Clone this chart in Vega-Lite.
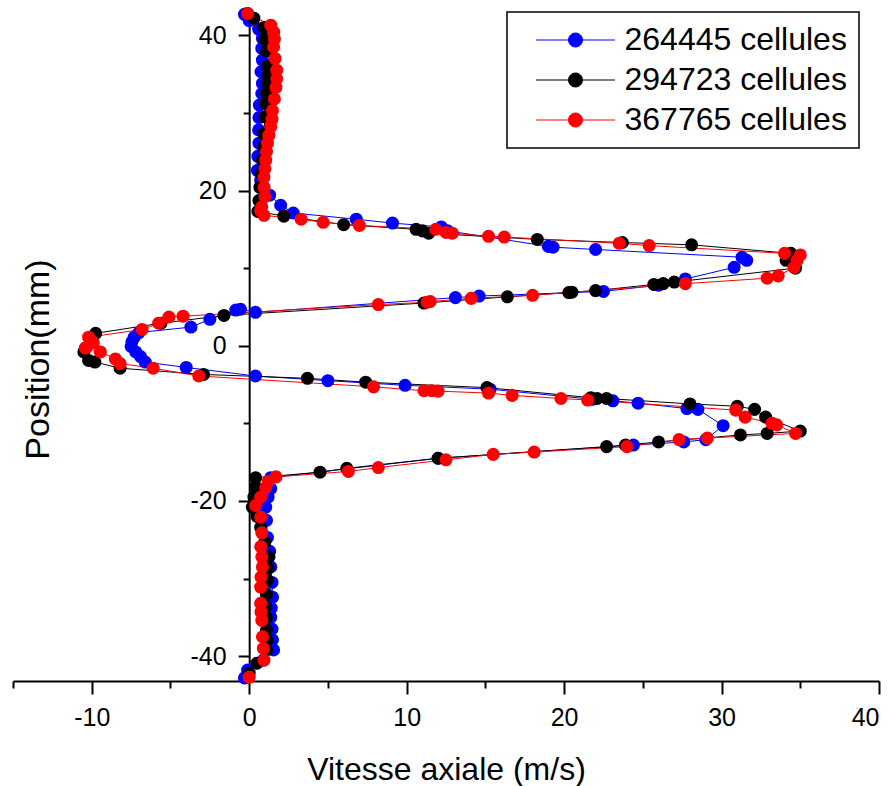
{
  "$schema": "https://vega.github.io/schema/vega-lite/v6.json",
  "width": 866,
  "height": 669,
  "autosize": {"type": "none"},
  "padding": {"left": 13, "top": 12, "right": 17, "bottom": 105},
  "config": {
    "font": "Liberation Sans",
    "view": {"stroke": null},
    "axis": {"grid": false, "domainColor": "black", "tickColor": "black", "labelColor": "black", "titleColor": "black", "titleFontWeight": "normal", "domainWidth": 2, "tickWidth": 2}
  },
  "data": {"values": [
    {"s":"264445 cellules","i":1,"p":42.7,"v":-0.3},
    {"s":"264445 cellules","i":2,"p":41.9,"v":0.0},
    {"s":"264445 cellules","i":3,"p":40.8,"v":0.6},
    {"s":"264445 cellules","i":4,"p":39.6,"v":0.84},
    {"s":"264445 cellules","i":5,"p":38.3,"v":0.8},
    {"s":"264445 cellules","i":6,"p":36.8,"v":0.84},
    {"s":"264445 cellules","i":7,"p":35.3,"v":0.75},
    {"s":"264445 cellules","i":8,"p":33.8,"v":0.84},
    {"s":"264445 cellules","i":9,"p":32.5,"v":0.8},
    {"s":"264445 cellules","i":10,"p":31.0,"v":0.65},
    {"s":"264445 cellules","i":11,"p":29.4,"v":0.62},
    {"s":"264445 cellules","i":12,"p":27.8,"v":0.6},
    {"s":"264445 cellules","i":13,"p":26.1,"v":0.62},
    {"s":"264445 cellules","i":14,"p":24.4,"v":0.55},
    {"s":"264445 cellules","i":15,"p":22.6,"v":0.52},
    {"s":"264445 cellules","i":16,"p":21.3,"v":0.73},
    {"s":"264445 cellules","i":17,"p":19.4,"v":1.3},
    {"s":"264445 cellules","i":18,"p":18.1,"v":2.0},
    {"s":"264445 cellules","i":19,"p":17.1,"v":2.8},
    {"s":"264445 cellules","i":20,"p":16.3,"v":6.8},
    {"s":"264445 cellules","i":21,"p":15.8,"v":9.1},
    {"s":"264445 cellules","i":22,"p":15.3,"v":12.2},
    {"s":"264445 cellules","i":23,"p":14.8,"v":12.6},
    {"s":"264445 cellules","i":24,"p":12.8,"v":19.0},
    {"s":"264445 cellules","i":25,"p":12.7,"v":19.3},
    {"s":"264445 cellules","i":26,"p":12.4,"v":22.0},
    {"s":"264445 cellules","i":27,"p":11.4,"v":31.3},
    {"s":"264445 cellules","i":28,"p":11.0,"v":31.6},
    {"s":"264445 cellules","i":29,"p":10.1,"v":30.8},
    {"s":"264445 cellules","i":30,"p":8.6,"v":27.7},
    {"s":"264445 cellules","i":31,"p":7.8,"v":26.0},
    {"s":"264445 cellules","i":32,"p":7.0,"v":22.5},
    {"s":"264445 cellules","i":33,"p":6.4,"v":14.6},
    {"s":"264445 cellules","i":34,"p":6.2,"v":13.1},
    {"s":"264445 cellules","i":35,"p":4.3,"v":0.4},
    {"s":"264445 cellules","i":36,"p":4.7,"v":-0.55},
    {"s":"264445 cellules","i":37,"p":4.6,"v":-0.85},
    {"s":"264445 cellules","i":38,"p":3.4,"v":-2.5},
    {"s":"264445 cellules","i":39,"p":2.4,"v":-3.7},
    {"s":"264445 cellules","i":40,"p":1.7,"v":-7.0},
    {"s":"264445 cellules","i":41,"p":1.1,"v":-7.3},
    {"s":"264445 cellules","i":42,"p":0.5,"v":-7.45},
    {"s":"264445 cellules","i":43,"p":-0.1,"v":-7.5},
    {"s":"264445 cellules","i":44,"p":-0.8,"v":-7.2},
    {"s":"264445 cellules","i":45,"p":-1.4,"v":-6.9},
    {"s":"264445 cellules","i":46,"p":-2.1,"v":-6.6},
    {"s":"264445 cellules","i":47,"p":-2.8,"v":-4.0},
    {"s":"264445 cellules","i":48,"p":-3.9,"v":0.4},
    {"s":"264445 cellules","i":49,"p":-4.5,"v":5.0},
    {"s":"264445 cellules","i":50,"p":-5.1,"v":9.9},
    {"s":"264445 cellules","i":51,"p":-5.6,"v":15.3},
    {"s":"264445 cellules","i":52,"p":-6.9,"v":21.8},
    {"s":"264445 cellules","i":53,"p":-7.1,"v":23.1},
    {"s":"264445 cellules","i":54,"p":-7.4,"v":24.7},
    {"s":"264445 cellules","i":55,"p":-8.1,"v":27.8},
    {"s":"264445 cellules","i":56,"p":-8.2,"v":28.5},
    {"s":"264445 cellules","i":57,"p":-10.3,"v":30.1},
    {"s":"264445 cellules","i":58,"p":-12.1,"v":29.0},
    {"s":"264445 cellules","i":59,"p":-12.4,"v":27.6},
    {"s":"264445 cellules","i":60,"p":-12.8,"v":24.4},
    {"s":"264445 cellules","i":61,"p":-14.5,"v":12.0},
    {"s":"264445 cellules","i":62,"p":-17.0,"v":1.37},
    {"s":"264445 cellules","i":63,"p":-18.4,"v":1.37},
    {"s":"264445 cellules","i":64,"p":-19.5,"v":1.2},
    {"s":"264445 cellules","i":65,"p":-20.8,"v":1.05},
    {"s":"264445 cellules","i":66,"p":-22.5,"v":1.1},
    {"s":"264445 cellules","i":67,"p":-24.7,"v":1.16},
    {"s":"264445 cellules","i":68,"p":-26.5,"v":1.3},
    {"s":"264445 cellules","i":69,"p":-28.5,"v":1.37},
    {"s":"264445 cellules","i":70,"p":-30.5,"v":1.45},
    {"s":"264445 cellules","i":71,"p":-32.4,"v":1.48},
    {"s":"264445 cellules","i":72,"p":-33.8,"v":1.4},
    {"s":"264445 cellules","i":73,"p":-35.0,"v":1.37},
    {"s":"264445 cellules","i":74,"p":-36.5,"v":1.45},
    {"s":"264445 cellules","i":75,"p":-37.9,"v":1.48},
    {"s":"264445 cellules","i":76,"p":-39.2,"v":1.55},
    {"s":"264445 cellules","i":77,"p":-40.5,"v":0.9},
    {"s":"264445 cellules","i":78,"p":-41.8,"v":-0.1},
    {"s":"264445 cellules","i":79,"p":-42.8,"v":-0.3},

    {"s":"294723 cellules","i":1,"p":42.8,"v":-0.1},
    {"s":"294723 cellules","i":2,"p":42.2,"v":0.3},
    {"s":"294723 cellules","i":3,"p":41.0,"v":0.94},
    {"s":"294723 cellules","i":4,"p":39.5,"v":1.0},
    {"s":"294723 cellules","i":5,"p":38.0,"v":1.1},
    {"s":"294723 cellules","i":6,"p":36.0,"v":1.16},
    {"s":"294723 cellules","i":7,"p":34.8,"v":1.2},
    {"s":"294723 cellules","i":8,"p":33.8,"v":1.16},
    {"s":"294723 cellules","i":9,"p":32.5,"v":1.1},
    {"s":"294723 cellules","i":10,"p":31.2,"v":1.05},
    {"s":"294723 cellules","i":11,"p":29.5,"v":1.0},
    {"s":"294723 cellules","i":12,"p":27.3,"v":0.94},
    {"s":"294723 cellules","i":13,"p":25.6,"v":0.9},
    {"s":"294723 cellules","i":14,"p":23.9,"v":0.84},
    {"s":"294723 cellules","i":15,"p":22.2,"v":0.75},
    {"s":"294723 cellules","i":16,"p":20.4,"v":0.68},
    {"s":"294723 cellules","i":17,"p":18.7,"v":0.62},
    {"s":"294723 cellules","i":18,"p":17.3,"v":0.55},
    {"s":"294723 cellules","i":19,"p":16.7,"v":2.2},
    {"s":"294723 cellules","i":20,"p":15.6,"v":6.0},
    {"s":"294723 cellules","i":21,"p":15.0,"v":10.6},
    {"s":"294723 cellules","i":22,"p":14.8,"v":11.0},
    {"s":"294723 cellules","i":23,"p":14.5,"v":11.4},
    {"s":"294723 cellules","i":24,"p":13.7,"v":18.3},
    {"s":"294723 cellules","i":25,"p":13.3,"v":23.7},
    {"s":"294723 cellules","i":26,"p":13.0,"v":28.1},
    {"s":"294723 cellules","i":27,"p":11.9,"v":34.4},
    {"s":"294723 cellules","i":28,"p":11.0,"v":34.1},
    {"s":"294723 cellules","i":29,"p":10.0,"v":34.7},
    {"s":"294723 cellules","i":30,"p":8.2,"v":27.0},
    {"s":"294723 cellules","i":31,"p":8.0,"v":26.3},
    {"s":"294723 cellules","i":32,"p":7.9,"v":25.7},
    {"s":"294723 cellules","i":33,"p":7.1,"v":22.0},
    {"s":"294723 cellules","i":34,"p":6.9,"v":20.5},
    {"s":"294723 cellules","i":35,"p":6.85,"v":20.3},
    {"s":"294723 cellules","i":36,"p":6.3,"v":16.4},
    {"s":"294723 cellules","i":37,"p":5.5,"v":11.1},
    {"s":"294723 cellules","i":38,"p":3.9,"v":-1.6},
    {"s":"294723 cellules","i":39,"p":2.9,"v":-5.6},
    {"s":"294723 cellules","i":40,"p":1.6,"v":-9.75},
    {"s":"294723 cellules","i":41,"p":-0.3,"v":-10.4},
    {"s":"294723 cellules","i":42,"p":-0.8,"v":-10.5},
    {"s":"294723 cellules","i":43,"p":-1.9,"v":-10.2},
    {"s":"294723 cellules","i":44,"p":-2.1,"v":-9.8},
    {"s":"294723 cellules","i":45,"p":-2.9,"v":-8.2},
    {"s":"294723 cellules","i":46,"p":-3.7,"v":-2.9},
    {"s":"294723 cellules","i":47,"p":-4.2,"v":3.7},
    {"s":"294723 cellules","i":48,"p":-4.7,"v":7.4},
    {"s":"294723 cellules","i":49,"p":-5.4,"v":15.1},
    {"s":"294723 cellules","i":50,"p":-6.7,"v":21.7},
    {"s":"294723 cellules","i":51,"p":-6.8,"v":22.1},
    {"s":"294723 cellules","i":52,"p":-6.8,"v":22.7},
    {"s":"294723 cellules","i":53,"p":-7.5,"v":28.0},
    {"s":"294723 cellules","i":54,"p":-7.8,"v":31.0},
    {"s":"294723 cellules","i":55,"p":-8.2,"v":32.1},
    {"s":"294723 cellules","i":56,"p":-9.2,"v":32.8},
    {"s":"294723 cellules","i":57,"p":-11.0,"v":35.0},
    {"s":"294723 cellules","i":58,"p":-11.3,"v":32.9},
    {"s":"294723 cellules","i":59,"p":-11.5,"v":31.2},
    {"s":"294723 cellules","i":60,"p":-12.4,"v":26.0},
    {"s":"294723 cellules","i":61,"p":-12.8,"v":23.9},
    {"s":"294723 cellules","i":62,"p":-13.0,"v":22.7},
    {"s":"294723 cellules","i":63,"p":-14.5,"v":12.0},
    {"s":"294723 cellules","i":64,"p":-15.8,"v":6.2},
    {"s":"294723 cellules","i":65,"p":-16.3,"v":4.5},
    {"s":"294723 cellules","i":66,"p":-17.0,"v":0.41},
    {"s":"294723 cellules","i":67,"p":-18.2,"v":0.41},
    {"s":"294723 cellules","i":68,"p":-19.5,"v":0.3},
    {"s":"294723 cellules","i":69,"p":-20.8,"v":0.2},
    {"s":"294723 cellules","i":70,"p":-22.0,"v":0.5},
    {"s":"294723 cellules","i":71,"p":-23.4,"v":0.73},
    {"s":"294723 cellules","i":72,"p":-25.3,"v":1.0},
    {"s":"294723 cellules","i":73,"p":-27.2,"v":1.26},
    {"s":"294723 cellules","i":74,"p":-28.7,"v":1.2},
    {"s":"294723 cellules","i":75,"p":-30.2,"v":1.16},
    {"s":"294723 cellules","i":76,"p":-32.0,"v":1.1},
    {"s":"294723 cellules","i":77,"p":-33.6,"v":1.05},
    {"s":"294723 cellules","i":78,"p":-35.0,"v":1.1},
    {"s":"294723 cellules","i":79,"p":-36.6,"v":1.1},
    {"s":"294723 cellules","i":80,"p":-38.0,"v":1.15},
    {"s":"294723 cellules","i":81,"p":-39.2,"v":1.1},
    {"s":"294723 cellules","i":82,"p":-40.9,"v":0.5},
    {"s":"294723 cellules","i":83,"p":-42.2,"v":0.0},

    {"s":"367765 cellules","i":1,"p":42.8,"v":-0.1},
    {"s":"367765 cellules","i":2,"p":41.3,"v":1.37},
    {"s":"367765 cellules","i":3,"p":40.4,"v":1.56},
    {"s":"367765 cellules","i":4,"p":39.5,"v":1.6},
    {"s":"367765 cellules","i":5,"p":38.5,"v":1.55},
    {"s":"367765 cellules","i":6,"p":37.0,"v":1.65},
    {"s":"367765 cellules","i":7,"p":35.5,"v":1.75},
    {"s":"367765 cellules","i":8,"p":34.4,"v":1.75},
    {"s":"367765 cellules","i":9,"p":33.3,"v":1.7},
    {"s":"367765 cellules","i":10,"p":31.8,"v":1.6},
    {"s":"367765 cellules","i":11,"p":30.3,"v":1.48},
    {"s":"367765 cellules","i":12,"p":29.2,"v":1.45},
    {"s":"367765 cellules","i":13,"p":28.2,"v":1.37},
    {"s":"367765 cellules","i":14,"p":27.1,"v":1.25},
    {"s":"367765 cellules","i":15,"p":26.1,"v":1.16},
    {"s":"367765 cellules","i":16,"p":25.0,"v":1.1},
    {"s":"367765 cellules","i":17,"p":23.9,"v":1.05},
    {"s":"367765 cellules","i":18,"p":22.8,"v":1.0},
    {"s":"367765 cellules","i":19,"p":21.7,"v":0.94},
    {"s":"367765 cellules","i":20,"p":20.4,"v":0.95},
    {"s":"367765 cellules","i":21,"p":19.2,"v":1.0},
    {"s":"367765 cellules","i":22,"p":17.9,"v":0.8},
    {"s":"367765 cellules","i":23,"p":17.4,"v":0.73},
    {"s":"367765 cellules","i":24,"p":16.8,"v":0.94},
    {"s":"367765 cellules","i":25,"p":16.3,"v":3.3},
    {"s":"367765 cellules","i":26,"p":15.9,"v":4.7},
    {"s":"367765 cellules","i":27,"p":15.5,"v":7.0},
    {"s":"367765 cellules","i":28,"p":15.0,"v":11.85},
    {"s":"367765 cellules","i":29,"p":14.6,"v":12.5},
    {"s":"367765 cellules","i":30,"p":14.5,"v":12.9},
    {"s":"367765 cellules","i":31,"p":14.1,"v":15.2},
    {"s":"367765 cellules","i":32,"p":14.0,"v":16.2},
    {"s":"367765 cellules","i":33,"p":13.2,"v":23.5},
    {"s":"367765 cellules","i":34,"p":12.9,"v":25.4},
    {"s":"367765 cellules","i":35,"p":11.9,"v":34.0},
    {"s":"367765 cellules","i":36,"p":11.7,"v":35.0},
    {"s":"367765 cellules","i":37,"p":11.0,"v":34.8},
    {"s":"367765 cellules","i":38,"p":10.1,"v":34.6},
    {"s":"367765 cellules","i":39,"p":9.0,"v":33.6},
    {"s":"367765 cellules","i":40,"p":8.7,"v":32.9},
    {"s":"367765 cellules","i":41,"p":8.0,"v":27.7},
    {"s":"367765 cellules","i":42,"p":6.5,"v":18.0},
    {"s":"367765 cellules","i":43,"p":6.1,"v":14.1},
    {"s":"367765 cellules","i":44,"p":5.7,"v":11.5},
    {"s":"367765 cellules","i":45,"p":5.6,"v":11.3},
    {"s":"367765 cellules","i":46,"p":5.3,"v":8.2},
    {"s":"367765 cellules","i":47,"p":3.8,"v":-4.2},
    {"s":"367765 cellules","i":48,"p":3.7,"v":-5.1},
    {"s":"367765 cellules","i":49,"p":2.9,"v":-5.75},
    {"s":"367765 cellules","i":50,"p":2.1,"v":-6.8},
    {"s":"367765 cellules","i":51,"p":1.1,"v":-10.2},
    {"s":"367765 cellules","i":52,"p":0.4,"v":-9.9},
    {"s":"367765 cellules","i":53,"p":-0.3,"v":-10.4},
    {"s":"367765 cellules","i":54,"p":-0.8,"v":-9.45},
    {"s":"367765 cellules","i":55,"p":-1.7,"v":-8.5},
    {"s":"367765 cellules","i":56,"p":-2.3,"v":-8.2},
    {"s":"367765 cellules","i":57,"p":-2.9,"v":-6.1},
    {"s":"367765 cellules","i":58,"p":-3.9,"v":-3.2},
    {"s":"367765 cellules","i":59,"p":-5.3,"v":7.9},
    {"s":"367765 cellules","i":60,"p":-5.8,"v":11.1},
    {"s":"367765 cellules","i":61,"p":-5.8,"v":11.6},
    {"s":"367765 cellules","i":62,"p":-5.85,"v":12.0},
    {"s":"367765 cellules","i":63,"p":-6.1,"v":15.2},
    {"s":"367765 cellules","i":64,"p":-6.4,"v":16.7},
    {"s":"367765 cellules","i":65,"p":-6.8,"v":19.8},
    {"s":"367765 cellules","i":66,"p":-7.0,"v":21.5},
    {"s":"367765 cellules","i":67,"p":-8.3,"v":30.9},
    {"s":"367765 cellules","i":68,"p":-9.2,"v":31.5},
    {"s":"367765 cellules","i":69,"p":-10.0,"v":33.2},
    {"s":"367765 cellules","i":70,"p":-10.2,"v":33.5},
    {"s":"367765 cellules","i":71,"p":-11.3,"v":34.7},
    {"s":"367765 cellules","i":72,"p":-11.9,"v":29.1},
    {"s":"367765 cellules","i":73,"p":-12.1,"v":27.3},
    {"s":"367765 cellules","i":74,"p":-13.0,"v":24.0},
    {"s":"367765 cellules","i":75,"p":-13.7,"v":18.1},
    {"s":"367765 cellules","i":76,"p":-14.0,"v":15.5},
    {"s":"367765 cellules","i":77,"p":-14.7,"v":12.5},
    {"s":"367765 cellules","i":78,"p":-15.7,"v":8.2},
    {"s":"367765 cellules","i":79,"p":-16.2,"v":6.3},
    {"s":"367765 cellules","i":80,"p":-16.9,"v":1.7},
    {"s":"367765 cellules","i":81,"p":-17.5,"v":1.2},
    {"s":"367765 cellules","i":82,"p":-18.3,"v":1.05},
    {"s":"367765 cellules","i":83,"p":-19.5,"v":0.73},
    {"s":"367765 cellules","i":84,"p":-20.6,"v":0.41},
    {"s":"367765 cellules","i":85,"p":-22.1,"v":0.73},
    {"s":"367765 cellules","i":86,"p":-24.1,"v":0.8},
    {"s":"367765 cellules","i":87,"p":-25.9,"v":0.73},
    {"s":"367765 cellules","i":88,"p":-27.2,"v":0.8},
    {"s":"367765 cellules","i":89,"p":-28.5,"v":0.84},
    {"s":"367765 cellules","i":90,"p":-29.8,"v":0.75},
    {"s":"367765 cellules","i":91,"p":-31.1,"v":0.73},
    {"s":"367765 cellules","i":92,"p":-33.2,"v":0.73},
    {"s":"367765 cellules","i":93,"p":-34.3,"v":0.75},
    {"s":"367765 cellules","i":94,"p":-35.4,"v":0.8},
    {"s":"367765 cellules","i":95,"p":-37.5,"v":0.84},
    {"s":"367765 cellules","i":96,"p":-39.0,"v":0.9},
    {"s":"367765 cellules","i":97,"p":-40.5,"v":0.94},
    {"s":"367765 cellules","i":98,"p":-42.7,"v":0.0}
  ]},
  "resolve": {"scale": {"x": "independent", "y": "independent"}, "axis": {"x": "independent", "y": "independent"}},
  "layer": [
    {
      "mark": {"type": "line", "strokeWidth": 1},
      "encoding": {
        "x": {"field": "v", "type": "quantitative", "scale": {"domain": [-15, 40], "nice": false, "zero": false},
          "axis": {"orient": "bottom", "values": [-10, 0, 10, 20, 30, 40], "labelExpr": "datum.value < 0 ? '-' + abs(datum.value) : '' + datum.value", "tickSize": 13, "labelFontSize": 25, "labelPadding": 11, "title": "Vitesse axiale (m/s)", "titleFontSize": 32, "titleY": 98, "titleBaseline": "alphabetic"}},
        "y": {"field": "p", "type": "quantitative", "scale": {"domain": [-43.2, 43], "nice": false, "zero": false},
          "axis": {"orient": "left", "offset": -236.18, "values": [-40, -20, 0, 20, 40], "labelExpr": "datum.value < 0 ? '-' + abs(datum.value) : '' + datum.value", "tickSize": 11, "labelFontSize": 25, "labelPadding": 12, "title": "Position(mm)", "titleFontSize": 34, "titleX": -201, "titleY": 347, "titleBaseline": "alphabetic", "titleAngle": -90, "titleAlign": "center"}},
        "color": {"field": "s", "type": "nominal",
          "scale": {"domain": ["264445 cellules", "294723 cellules", "367765 cellules"], "range": ["#0000FF", "#000000", "#FF0000"]},
          "legend": {"orient": "none", "legendX": 494, "legendY": 0, "title": null, "padding": 12, "strokeColor": "black",
            "labelFontSize": 32, "labelLimit": 400, "labelColor": "black", "labelFont": "Liberation Sans",
            "symbolType": "M-5.64,0L5.64,0M-1,0A1,1,0,1,1,1,0A1,1,0,1,1,-1,0Z", "symbolSize": 196, "symbolStrokeWidth": 1, "symbolOpacity": 1,
            "symbolOffset": 40.5, "labelOffset": 33, "rowPadding": 8,
            "encode": {"legend": {"update": {"strokeWidth": {"value": 1.5}}},
              "symbols": {"update": {"fill": {"scale": "color", "field": "value"}, "stroke": {"scale": "color", "field": "value"}}}}}},
        "order": {"field": "i", "type": "quantitative"}
      }
    },
    {
      "mark": {"type": "point", "filled": true, "size": 170, "opacity": 1},
      "encoding": {
        "x": {"field": "v", "type": "quantitative", "scale": {"domain": [-15, 40], "nice": false, "zero": false},
          "axis": {"orient": "bottom", "values": [-15, -5, 5, 15, 25, 35], "tickSize": 7, "labels": false, "domain": false, "title": null}},
        "y": {"field": "p", "type": "quantitative", "scale": {"domain": [-43.2, 43], "nice": false, "zero": false},
          "axis": {"orient": "left", "offset": -236.18, "values": [-30, -10, 10, 30], "tickSize": 6, "labels": false, "domain": false, "title": null}},
        "color": {"field": "s", "type": "nominal",
          "scale": {"domain": ["264445 cellules", "294723 cellules", "367765 cellules"], "range": ["#0000FF", "#000000", "#FF0000"]},
          "legend": {"orient": "none", "legendX": 494, "legendY": 0, "title": null, "padding": 12, "strokeColor": "black",
            "labelFontSize": 32, "labelLimit": 400, "labelColor": "black", "labelFont": "Liberation Sans",
            "symbolType": "M-5.64,0L5.64,0M-1,0A1,1,0,1,1,1,0A1,1,0,1,1,-1,0Z", "symbolSize": 196, "symbolStrokeWidth": 1, "symbolOpacity": 1,
            "symbolOffset": 40.5, "labelOffset": 33, "rowPadding": 8,
            "encode": {"legend": {"update": {"strokeWidth": {"value": 1.5}}},
              "symbols": {"update": {"fill": {"scale": "color", "field": "value"}, "stroke": {"scale": "color", "field": "value"}}}}}}
      }
    }
  ]
}
